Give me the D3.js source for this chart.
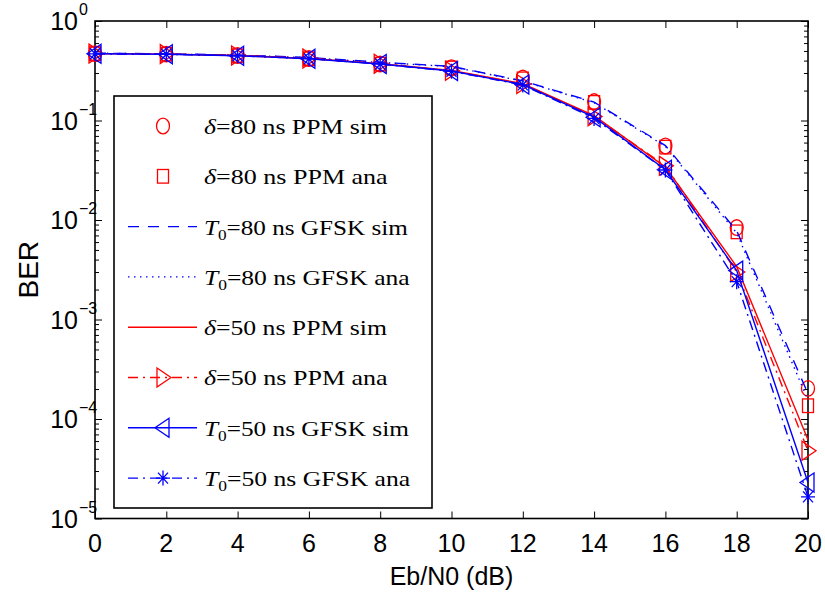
<!DOCTYPE html>
<html><head><meta charset="utf-8">
<script src="https://cdn.jsdelivr.net/npm/d3@7"></script>
<style>body{margin:0;background:#fff}svg{display:block}</style>
</head><body>
<svg id="chart" width="825" height="598"></svg>
<script>
// ---------- data ----------
const ebn0 = [0, 2, 4, 6, 8, 10, 12, 14, 16, 18, 20];
const ppm80Sim  = [0.47, 0.465, 0.45, 0.42, 0.37, 0.34, 0.267, 0.155, 0.0554, 0.0084, 2.03e-4];
const ppm80Ana  = [0.47, 0.463, 0.448, 0.418, 0.368, 0.337, 0.262, 0.152, 0.054, 0.0076, 1.36e-4];
const gfsk80Sim = [0.475, 0.468, 0.455, 0.43, 0.385, 0.35, 0.25, 0.153, 0.056, 0.0078, 1.8e-4];
const gfsk80Ana = [0.475, 0.466, 0.453, 0.428, 0.383, 0.348, 0.248, 0.151, 0.055, 0.0074, 1.55e-4];
const ppm50Sim  = [0.47, 0.465, 0.45, 0.42, 0.372, 0.318, 0.235, 0.112, 0.034, 0.0034, 6.2e-5];
const ppm50Ana  = [0.47, 0.465, 0.45, 0.42, 0.372, 0.316, 0.233, 0.11, 0.035, 0.0030, 4.8e-5];
const gfsk50Sim = [0.468, 0.463, 0.448, 0.418, 0.37, 0.314, 0.23, 0.108, 0.032, 0.0031, 2.3e-5];
const gfsk50Ana = [0.468, 0.463, 0.448, 0.418, 0.37, 0.312, 0.228, 0.105, 0.0318, 0.0024, 1.65e-5];

const legendSymbol = ["δ", "δ", "T", "T", "δ", "δ", "T", "T"];
const legendSub    = ["", "", "0", "0", "", "", "0", "0"];
const legendRest   = ["=80 ns PPM sim", "=80 ns PPM ana", "=80 ns GFSK sim", "=80 ns GFSK ana",
                      "=50 ns PPM sim", "=50 ns PPM ana", "=50 ns GFSK sim", "=50 ns GFSK ana"];
const xTickValues = [0, 2, 4, 6, 8, 10, 12, 14, 16, 18, 20];
const yTickExponents = [0, -1, -2, -3, -4, -5];
const xLabel = "Eb/N0 (dB)";
const yLabel = "BER";

// ---------- styles ----------
const RED = "#ff0000", BLUE = "#0000ff";
const seriesStyles = [
  {color: RED,  dash: null, line: false, marker: "circle"},
  {color: RED,  dash: null, line: false, marker: "square"},
  {color: BLUE, dash: "11,9", line: true, marker: null},
  {color: BLUE, dash: "1.5,4.5", line: true, marker: null},
  {color: RED,  dash: null, line: true, marker: null},
  {color: RED,  dash: "10,5,2,5", line: true, marker: "triRight"},
  {color: BLUE, dash: null, line: true, marker: "triLeft"},
  {color: BLUE, dash: "10,5,2,5", line: true, marker: "star"}
];
const seriesValues = [ppm80Sim, ppm80Ana, gfsk80Sim, gfsk80Ana, ppm50Sim, ppm50Ana, gfsk50Sim, gfsk50Ana];
const legendTextWidths = [183, 184, 204, 206, 183, 184, 205, 206.5];

const M = {left: 95, right: 808, top: 21, bottom: 518.5};
const svg = d3.select("#chart");
const x = d3.scaleLinear().domain([0, 20]).range([M.left, M.right]);
const y = d3.scaleLog().domain([1e-5, 1]).range([M.bottom, M.top]);

svg.append("rect").attr("width", 825).attr("height", 598).attr("fill", "#fff");

// ---------- axes ----------
const minorVals = [];
for (let e = -5; e < 0; e++) for (let k = 2; k <= 9; k++) minorVals.push(k * Math.pow(10, e));
const majorVals = yTickExponents.map(e => Math.pow(10, e));

function styleAxis(g) {
  g.select(".domain").remove();
  g.selectAll(".tick line").attr("stroke", "#000").attr("stroke-width", 1);
  g.selectAll(".tick text").remove();
}
svg.append("g").attr("transform", `translate(0,${M.bottom})`)
  .call(d3.axisBottom(x).tickValues(xTickValues).tickSizeInner(-7).tickSizeOuter(0)).call(styleAxis);
svg.append("g").attr("transform", `translate(0,${M.top})`)
  .call(d3.axisTop(x).tickValues(xTickValues).tickSizeInner(-7).tickSizeOuter(0)).call(styleAxis);
svg.append("g").attr("transform", `translate(${M.left},0)`)
  .call(d3.axisLeft(y).tickValues(majorVals).tickSizeInner(-7).tickSizeOuter(0)).call(styleAxis);
svg.append("g").attr("transform", `translate(${M.right},0)`)
  .call(d3.axisRight(y).tickValues(majorVals).tickSizeInner(-7).tickSizeOuter(0)).call(styleAxis);
svg.append("g").attr("transform", `translate(${M.left},0)`)
  .call(d3.axisLeft(y).tickValues(minorVals).tickSizeInner(-4).tickSizeOuter(0)).call(styleAxis);
svg.append("g").attr("transform", `translate(${M.right},0)`)
  .call(d3.axisRight(y).tickValues(minorVals).tickSizeInner(-4).tickSizeOuter(0)).call(styleAxis);

svg.append("rect").attr("x", M.left).attr("y", M.top)
  .attr("width", M.right - M.left).attr("height", M.bottom - M.top)
  .attr("fill", "none").attr("stroke", "#000").attr("stroke-width", 1.6);

// tick labels
const sans = "'Liberation Sans', Arial, sans-serif";
svg.append("g").selectAll("text").data(xTickValues).join("text")
  .attr("x", d => x(d)).attr("y", 552)
  .attr("text-anchor", "middle").attr("font-family", sans).attr("font-size", 25)
  .text(d => d);
const yl = svg.append("g").selectAll("g").data(yTickExponents).join("g")
  .attr("transform", d => `translate(0,${y(Math.pow(10, d))})`);
yl.append("text").attr("x", 78).attr("y", 9).attr("text-anchor", "end")
  .attr("font-family", sans).attr("font-size", 25).text("10");
yl.append("text").attr("x", 79).attr("y", -6).attr("text-anchor", "start")
  .attr("font-family", sans).attr("font-size", 16).text(d => d === 0 ? "0" : "\u2212" + (-d));

svg.append("text").attr("x", (M.left + M.right) / 2).attr("y", 585)
  .attr("text-anchor", "middle").attr("font-family", sans).attr("font-size", 25).text(xLabel);
svg.append("text").attr("transform", `translate(38,${(M.top + M.bottom) / 2}) rotate(-90)`)
  .attr("text-anchor", "middle").attr("font-family", sans).attr("font-size", 28).text(yLabel);

// ---------- markers ----------
function drawMarker(g, type, color) {
  const s = {fill: "none", stroke: color, "stroke-width": 1.3};
  let el;
  if (type === "circle") el = g.append("ellipse").attr("rx", 6.5).attr("ry", 7.8);
  else if (type === "square") el = g.append("rect").attr("x", -5.5).attr("y", -6.8).attr("width", 11).attr("height", 13.6);
  else if (type === "triRight") el = g.append("path").attr("d", "M-6,-9.5L8,0L-6,9.5Z");
  else if (type === "triLeft") el = g.append("path").attr("d", "M6,-9.5L-8,0L6,9.5Z");
  else if (type === "star") el = g.append("path").attr("d", "M-7,0H7M0,-7.5V7.5M-5,-5.5L5,5.5M-5,5.5L5,-5.5");
  if (el) Object.entries(s).forEach(([k, v]) => el.attr(k, v));
}

// ---------- series ----------
const plot = svg.append("g");
const lineGen = d3.line().x((d, i) => x(ebn0[i])).y(d => y(d));
seriesValues.forEach((vals, si) => {
  const st = seriesStyles[si];
  const g = plot.append("g");
  if (st.line) {
    g.append("path").attr("d", lineGen(vals)).attr("fill", "none")
      .attr("stroke", st.color).attr("stroke-width", 1.4)
      .attr("stroke-dasharray", st.dash);
  }
  if (st.marker) {
    vals.forEach((v, i) => {
      const mg = g.append("g").attr("transform", `translate(${x(ebn0[i])},${y(v)})`);
      drawMarker(mg, st.marker, st.color);
    });
  }
});

// ---------- legend ----------
const LB = {x: 114, y: 96, w: 318, h: 412};
const lg = svg.append("g");
lg.append("rect").attr("x", LB.x).attr("y", LB.y).attr("width", LB.w).attr("height", LB.h)
  .attr("fill", "#fff").attr("stroke", "#000").attr("stroke-width", 1.6);
const serif = "'Liberation Serif', 'Times New Roman', serif";
legendRest.forEach((rest, i) => {
  const st = seriesStyles[i];
  const ry = 126 + 50.3 * i;
  const row = lg.append("g");
  if (st.line) {
    row.append("line").attr("x1", 128).attr("x2", 197).attr("y1", ry).attr("y2", ry)
      .attr("stroke", st.color).attr("stroke-width", 1.4).attr("stroke-dasharray", st.dash);
  }
  if (st.marker) drawMarker(row.append("g").attr("transform", `translate(163,${ry})`), st.marker, st.color);
  const t = row.append("text").attr("x", 204).attr("y", ry + 8)
    .attr("font-family", serif).attr("font-size", 22).attr("fill", "#000");
  t.append("tspan").attr("font-style", "italic").text(legendSymbol[i]);
  if (legendSub[i]) {
    t.append("tspan").attr("font-size", 15).attr("dy", 5).text(legendSub[i]);
    t.append("tspan").attr("dy", -5).text(rest);
  } else {
    t.append("tspan").text(rest);
  }
  const bw = t.node().getBBox().width;
  const k = legendTextWidths[i] / bw;
  t.attr("transform", `translate(${204 * (1 - k)},0) scale(${k},1)`);
});
</script>
</body></html>
